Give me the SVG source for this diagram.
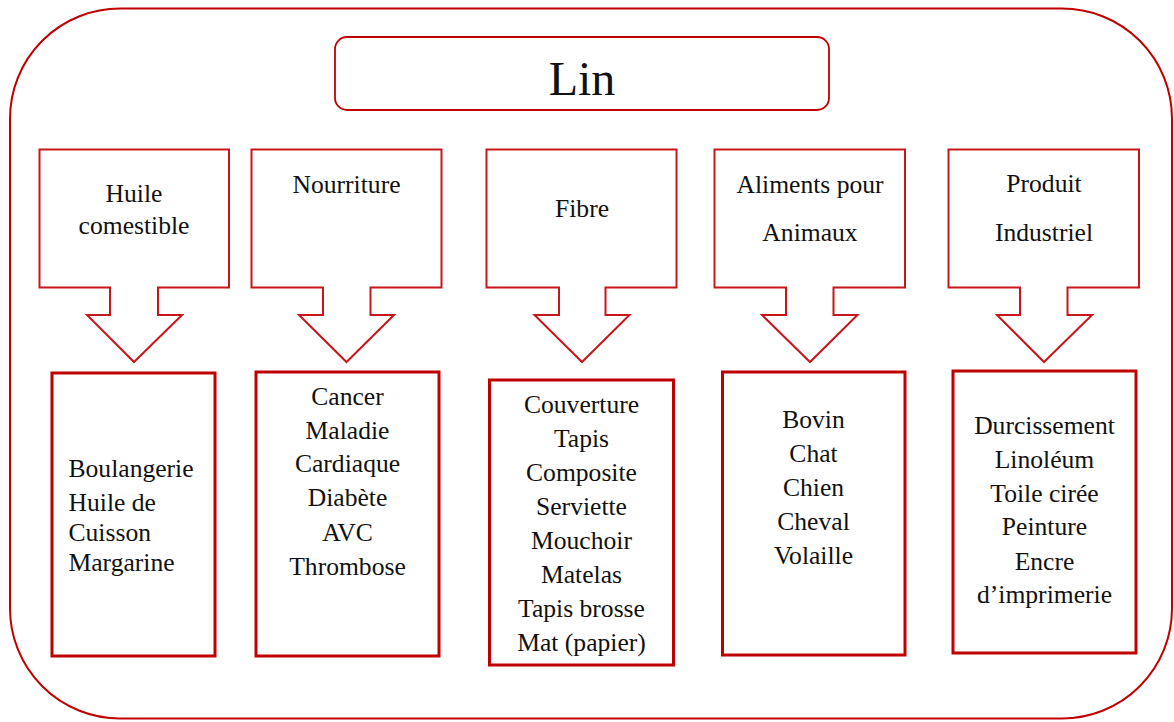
<svg xmlns="http://www.w3.org/2000/svg" width="1174" height="722" viewBox="0 0 1174 722" font-family="'Liberation Serif', 'Times New Roman', serif">
<style>
.frame{fill:none;stroke:#c00000;stroke-width:2}
.title{fill:#fff;stroke:#c00000;stroke-width:1.8}
.callout{fill:#fff;stroke:#c8161d;stroke-width:2}
.box{fill:#fff;stroke:#c00000;stroke-width:3}
.t{font-family:'Liberation Serif','Times New Roman',serif;font-size:25.6px;fill:#111}
.c{text-anchor:middle}
.big{font-size:48px}
</style>
<rect width="1174" height="722" fill="#fff"/>
<rect class="frame" x="10" y="8.5" width="1162" height="710" rx="110" ry="110"/>
<g id="title">
<rect class="title" x="335" y="37" width="494" height="73" rx="12"/>
<text class="t c big" x="582" y="95">Lin</text>
</g>
<g id="connectors">
<path class="callout" d="M39.5,149.5 H229 V287.5 H158 V315 H182 L134,362 L87,315 H110 V287.5 H39.5 Z"/>
<path class="callout" d="M251.5,149.5 H441.5 V287.5 H370.5 V315 H394 L346.5,362 L299,315 H323 V287.5 H251.5 Z"/>
<path class="callout" d="M486.5,149.5 H676.5 V287.5 H605.5 V315 H629.5 L582,362 L534.5,315 H559 V287.5 H486.5 Z"/>
<path class="callout" d="M714.5,149.5 H905 V287.5 H833.5 V315 H857.5 L810,362 L762,315 H786 V287.5 H714.5 Z"/>
<path class="callout" d="M948.5,149.5 H1139 V287.5 H1067.5 V315 H1092 L1044,362 L997,315 H1020 V287.5 H948.5 Z"/>
</g>
<g id="head-huile">
<text class="t c" x="134" y="202">Huile</text>
<text class="t c" x="134" y="234">comestible</text>
</g>
<g id="head-nourriture">
<text class="t c" x="346.5" y="193">Nourriture</text>
</g>
<g id="head-fibre">
<text class="t c" x="582" y="217">Fibre</text>
</g>
<g id="head-aliments">
<text class="t c" x="810" y="193">Aliments pour</text>
<text class="t c" x="810" y="241">Animaux</text>
</g>
<g id="head-produit">
<text class="t c" x="1044" y="192">Produit</text>
<text class="t c" x="1044" y="241">Industriel</text>
</g>
<g id="box-huile">
<rect class="box" x="52" y="373" width="163" height="283"/>
<text class="t" x="68.5" y="477">Boulangerie</text>
<text class="t" x="68.5" y="511">Huile de</text>
<text class="t" x="68.5" y="541">Cuisson</text>
<text class="t" x="68.5" y="571">Margarine</text>
</g>
<g id="box-nourriture">
<rect class="box" x="256" y="372" width="183" height="284"/>
<text class="t c" x="347.5" y="405">Cancer</text>
<text class="t c" x="347.5" y="439">Maladie</text>
<text class="t c" x="347.5" y="472">Cardiaque</text>
<text class="t c" x="347.5" y="506">Diabète</text>
<text class="t c" x="347.5" y="541">AVC</text>
<text class="t c" x="347.5" y="575">Thrombose</text>
</g>
<g id="box-fibre">
<rect class="box" x="489.5" y="380" width="184" height="285"/>
<text class="t c" x="581.5" y="413">Couverture</text>
<text class="t c" x="581.5" y="447">Tapis</text>
<text class="t c" x="581.5" y="481">Composite</text>
<text class="t c" x="581.5" y="515">Serviette</text>
<text class="t c" x="581.5" y="549">Mouchoir</text>
<text class="t c" x="581.5" y="583">Matelas</text>
<text class="t c" x="581.5" y="617">Tapis brosse</text>
<text class="t c" x="581.5" y="651">Mat (papier)</text>
</g>
<g id="box-aliments">
<rect class="box" x="722.5" y="372" width="182.5" height="283"/>
<text class="t c" x="813.5" y="428">Bovin</text>
<text class="t c" x="813.5" y="462">Chat</text>
<text class="t c" x="813.5" y="496">Chien</text>
<text class="t c" x="813.5" y="530">Cheval</text>
<text class="t c" x="813.5" y="564">Volaille</text>
</g>
<g id="box-produit">
<rect class="box" x="953" y="371" width="183" height="282"/>
<text class="t c" x="1044.5" y="434">Durcissement</text>
<text class="t c" x="1044.5" y="468">Linoléum</text>
<text class="t c" x="1044.5" y="502">Toile cirée</text>
<text class="t c" x="1044.5" y="535">Peinture</text>
<text class="t c" x="1044.5" y="570">Encre</text>
<text class="t c" x="1044.5" y="603">d’imprimerie</text>
</g>
</svg>
